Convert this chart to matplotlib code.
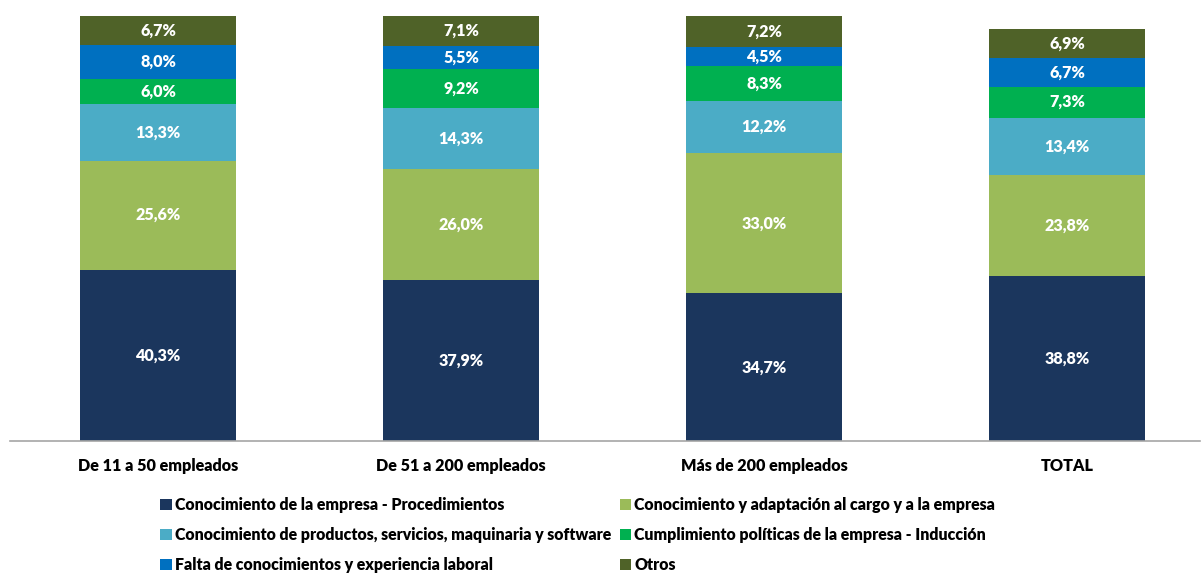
import matplotlib
matplotlib.use("Agg")
import matplotlib.pyplot as plt
from matplotlib.patches import Patch

plt.rcParams['font.family'] = ['Lato', 'DejaVu Sans']
WEIGHT = "heavy"
FS = 11.6
LFS = 11.4

categories = ["De 11 a 50 empleados", "De 51 a 200 empleados", "Más de 200 empleados", "TOTAL"]
series_names = [
    "Conocimiento de la empresa - Procedimientos",
    "Conocimiento y adaptación al cargo y a la empresa",
    "Conocimiento de productos, servicios, maquinaria y software",
    "Cumplimiento políticas de la empresa - Inducción",
    "Falta de conocimientos y experiencia laboral",
    "Otros",
]
procedimientos = [40.3, 37.9, 34.7, 38.8]
adaptacion = [25.6, 26.0, 33.0, 23.8]
productos = [13.3, 14.3, 12.2, 13.4]
induccion = [6.0, 9.2, 8.3, 7.3]
falta = [8.0, 5.5, 4.5, 6.7]
otros = [6.7, 7.1, 7.2, 6.9]
colors = ["#1b365d", "#9bbb59", "#4bacc6", "#00b050", "#0070c0", "#4f6228"]

values = [procedimientos, adaptacion, productos, induccion, falta, otros]

fig = plt.figure(figsize=(12.02, 5.74), dpi=100)
W, H = 1202, 574
ax = fig.add_axes([10 / W, (H - 441) / H, 1190 / W, 425.4 / H])

x = list(range(len(categories)))
bottoms = [0.0] * len(categories)
for name, vals, col in zip(series_names, values, colors):
    ax.bar(x, vals, bottom=bottoms, width=0.515, color=col, label=name)
    for xi, v, b in zip(x, vals, bottoms):
        ax.text(xi, b + v / 2, f"{v:.1f}".replace(".", ",") + "%", ha="center", va="center",
                color="white", fontsize=FS, fontweight=WEIGHT)
    bottoms = [b + v for b, v in zip(bottoms, vals)]

ax.set_xlim((10 - 158) / 303, (1200 - 158) / 303)
ax.set_ylim(0, 100)
for s in ["top", "right", "left"]:
    ax.spines[s].set_visible(False)
ax.spines["bottom"].set_color("#a6a6a6")
ax.spines["bottom"].set_linewidth(1.2)
ax.set_yticks([])
ax.set_xticks(x)
ax.set_xticklabels(categories, fontsize=FS, fontweight=WEIGHT)
ax.tick_params(axis="x", length=0, pad=12)

handles = [Patch(facecolor=c) for c in colors]
order = [0, 2, 4, 1, 3, 5]
leg = fig.legend([handles[i] for i in order], [series_names[i] for i in order],
                 ncol=2, loc="upper left", bbox_to_anchor=(146 / W, 1 - 483 / H),
                 frameon=False, fontsize=LFS, handlelength=0.72, handleheight=0.72,
                 handletextpad=0.2, columnspacing=0.55, labelspacing=0.88)
for t in leg.get_texts():
    t.set_fontweight(WEIGHT)

fig.savefig("out.png", dpi=100)
